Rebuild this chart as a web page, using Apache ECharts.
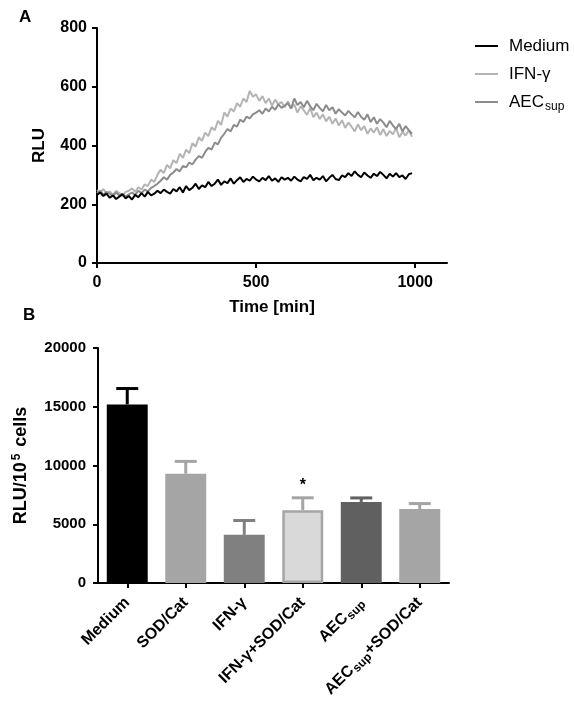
<!DOCTYPE html>
<html>
<head>
<meta charset="utf-8">
<script src="https://cdn.jsdelivr.net/npm/echarts@6/dist/echarts.min.js"></script>
<style>
  html, body { margin: 0; padding: 0; background: #fff; }
  #chart { width: 574px; height: 708px; }
</style>
</head>
<body>
<div id="chart"></div>
<script>
// panel A: kinetics, one reading every 10 min
const timeStep = 10
const mediumRLU = [
  232, 240, 228, 236, 222, 230, 218, 226, 234, 220,
  228, 216, 232, 224, 238, 226, 242, 230, 236, 246,
  238, 250, 242, 236, 252, 244, 258, 240, 262, 248,
  256, 270, 252, 264, 258, 276, 262, 270, 284, 266,
  278, 272, 288, 270, 282, 292, 276, 286, 280, 294,
  284, 278, 290, 282, 296, 280, 288, 276, 292, 284,
  290, 280, 294, 284, 278, 292, 286, 300, 282, 290,
  284, 296, 278, 290, 300, 286, 282, 298, 292, 306,
  296, 312, 300, 292, 308, 298, 290, 304, 296, 310,
  300, 288, 304, 294, 306, 292, 298, 286, 302, 306
]
const ifnRLU = [
  248, 240, 252, 236, 244, 232, 246, 238, 228, 242,
  246, 254, 242, 258, 250, 268, 262, 284, 276, 300,
  318, 306, 334, 322, 350, 340, 372, 358, 386, 374,
  408, 396, 428, 416, 444, 432, 462, 452, 484, 470,
  512, 498, 526, 516, 544, 532, 560, 548, 586, 566,
  574, 552, 568, 544, 560, 536, 556, 540, 548, 530,
  550, 526, 540, 512, 534, 520, 504, 528, 496, 512,
  490, 506, 482, 498, 474, 492, 468, 486, 460, 478,
  464, 448, 472, 452, 466, 440, 458, 444, 462, 436,
  456, 432, 450, 438, 460, 428, 446, 434, 452, 430
]
const aecRLU = [
  238, 246, 232, 242, 236, 228, 240, 230, 236, 226,
  234, 240, 232, 246, 238, 250, 244, 256, 262, 270,
  280, 292, 284, 300, 308, 320, 312, 330, 326, 342,
  336, 352, 364, 358, 378, 392, 386, 410, 404, 426,
  440, 456, 448, 470, 464, 488, 480, 498, 492, 506,
  512, 520, 508, 526, 516, 532, 522, 540, 528, 536,
  544, 526, 560, 538, 548, 530, 552, 534, 520, 542,
  528, 516, 538, 520, 530, 508, 524, 512, 502, 518,
  506, 496, 514, 498, 488, 506, 480, 496, 474, 490,
  478, 462, 484, 468, 456, 474, 448, 466, 452, 440
]

// panel B: total RLU per 10^5 cells
const barCats = ['Medium', 'SOD/Cat', 'IFN-γ', 'IFN-γ+SOD/Cat', 'AECsup', 'AECsup+SOD/Cat']
const barMeans = [15200, 9300, 4100, 6200, 6900, 6300]
const barErrs = [1350, 1050, 1220, 1050, 340, 460]
const barStars = ['', '', '', '*', '', '']

const barFills = ['#000000', '#a5a5a5', '#808080', '#d9d9d9', '#606060', '#a5a5a5']
const barEdges = ['#000000', '#a5a5a5', '#808080', '#a5a5a5', '#606060', '#a5a5a5']

const FONT = 'Liberation Sans, Arial, sans-serif'

const chart = echarts.init(document.getElementById('chart'))

const toPairs = arr => arr.map((v, i) => [i * timeStep, v])

const axisLine = { show: true, lineStyle: { color: '#000', width: 2 } }
const axisTick = { show: true, length: 5, lineStyle: { color: '#000', width: 2 } }
const tickLabel = { color: '#000', fontFamily: FONT, fontWeight: 'bold', fontSize: 15, formatter: v => String(v) }

const fmtCat = s => s.replace('AECsup', 'AEC{sub|sup}')

const option = {
  backgroundColor: '#fff',
  animation: false,
  textStyle: { fontFamily: FONT },
  graphic: [
    { type: 'text', left: 19, top: 9, style: { text: 'A', font: 'bold 17px ' + FONT, fill: '#000' } },
    { type: 'text', left: 23, top: 307, style: { text: 'B', font: 'bold 17px ' + FONT, fill: '#000' } }
  ],
  legend: {
    orient: 'vertical',
    left: 470,
    top: 31,
    itemWidth: 23,
    itemHeight: 2,
    itemGap: 8,
    icon: 'rect',
    data: ['Medium', 'IFN-γ', 'AECsup'],
    formatter: fmtCat,
    textStyle: {
      color: '#000', fontSize: 17, fontFamily: FONT, lineHeight: 20, padding: [0, 0, 0, 6],
      rich: { sub: { fontSize: 12, fontFamily: FONT, color: '#000', padding: [9, 0, 0, 1] } }
    }
  },
  grid: [
    { left: 97, top: 28, width: 350, height: 235 },
    { left: 98, top: 348, width: 351, height: 235 }
  ],
  xAxis: [
    {
      gridIndex: 0, type: 'value', min: 0, max: 1100, interval: 500,
      name: 'Time [min]', nameLocation: 'middle', nameGap: 36,
      nameTextStyle: { color: '#000', fontWeight: 'bold', fontSize: 17, fontFamily: FONT },
      axisLine, axisTick, splitLine: { show: false },
      axisLabel: { ...tickLabel, fontSize: 16, margin: 12, showMaxLabel: false }
    },
    {
      gridIndex: 1, type: 'category', data: barCats,
      axisLine, axisTick: { ...axisTick, alignWithLabel: true },
      axisLabel: {
        color: '#000', fontFamily: FONT, fontWeight: 'bold', fontSize: 16,
        rotate: 45, margin: 17, interval: 0,
        formatter: fmtCat,
        rich: { sub: { fontSize: 12, fontWeight: 'bold', fontFamily: FONT, color: '#000', padding: [8, 0, 0, 1] } }
      }
    }
  ],
  yAxis: [
    {
      gridIndex: 0, type: 'value', min: 0, max: 800, interval: 200,
      name: 'RLU', nameLocation: 'middle', nameGap: 49, nameRotate: 90,
      nameTextStyle: { color: '#000', fontWeight: 'bold', fontSize: 17, fontFamily: FONT },
      axisLine, axisTick, splitLine: { show: false },
      axisLabel: { ...tickLabel, fontSize: 16, margin: 10 }
    },
    {
      gridIndex: 1, type: 'value', min: 0, max: 20000, interval: 5000,
      name: 'RLU/10{sup|5} cells', nameLocation: 'middle', nameGap: 66, nameRotate: 90,
      nameTextStyle: {
        color: '#000', fontWeight: 'bold', fontSize: 18, fontFamily: FONT,
        rich: { sup: { fontSize: 12, fontWeight: 'bold', fontFamily: FONT, color: '#000', padding: [0, 2, 9, 2] } }
      },
      axisLine, axisTick, splitLine: { show: false },
      axisLabel: { ...tickLabel, margin: 12 }
    }
  ],
  series: [
    {
      name: 'Medium', type: 'line', xAxisIndex: 0, yAxisIndex: 0,
      data: toPairs(mediumRLU), showSymbol: false, z: 4,
      lineStyle: { color: '#000', width: 2 }, itemStyle: { color: '#000' }
    },
    {
      name: 'IFN-γ', type: 'line', xAxisIndex: 0, yAxisIndex: 0,
      data: toPairs(ifnRLU), showSymbol: false, z: 2,
      lineStyle: { color: '#b4b4b4', width: 2 }, itemStyle: { color: '#b4b4b4' }
    },
    {
      name: 'AECsup', type: 'line', xAxisIndex: 0, yAxisIndex: 0,
      data: toPairs(aecRLU), showSymbol: false, z: 3,
      lineStyle: { color: '#8c8c8c', width: 2 }, itemStyle: { color: '#8c8c8c' }
    },
    {
      type: 'bar', xAxisIndex: 1, yAxisIndex: 1, barWidth: '70%', z: 2,
      data: barMeans.map((v, i) => ({
        value: v,
        itemStyle: { color: barFills[i], borderColor: barEdges[i], borderWidth: i === 3 ? 2.5 : 0 }
      }))
    },
    {
      type: 'custom', xAxisIndex: 1, yAxisIndex: 1, z: 5,
      data: barMeans.map((v, i) => [i, v, v + barErrs[i]]),
      renderItem(params, api) {
        const i = api.value(0)
        const p0 = api.coord([i, api.value(1)])
        const p1 = api.coord([i, api.value(2)])
        const col = barEdges[i]
        const children = [
          { type: 'line', shape: { x1: p0[0], y1: p0[1], x2: p1[0], y2: p1[1] }, style: { stroke: col, lineWidth: 3 } },
          { type: 'line', shape: { x1: p1[0] - 11, y1: p1[1], x2: p1[0] + 11, y2: p1[1] }, style: { stroke: col, lineWidth: 3 } }
        ]
        if (barStars[i]) {
          children.push({
            type: 'text',
            style: { text: barStars[i], x: p1[0], y: p1[1] - 4, align: 'center', verticalAlign: 'bottom', font: 'bold 16px ' + FONT, fill: '#000' }
          })
        }
        return { type: 'group', children }
      }
    }
  ]
}

chart.setOption(option)
</script>
</body>
</html>
